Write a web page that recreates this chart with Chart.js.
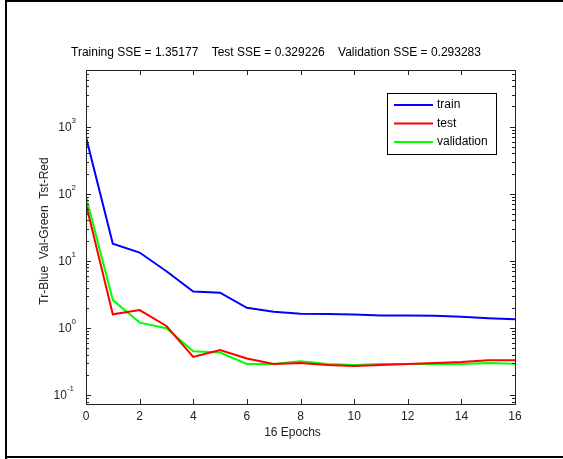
<!DOCTYPE html>
<html>
<head>
<meta charset="utf-8">
<script src="https://cdn.jsdelivr.net/npm/chart.js@4/dist/chart.umd.min.js"></script>
<style>
  body { margin: 0; background: #fff; }
  canvas { display: block; }
</style>
</head>
<body>
<canvas id="sseChart" width="563" height="459"></canvas>
<script>
const epochs = [0, 1, 2, 3, 4, 5, 6, 7, 8, 9, 10, 11, 12, 13, 14, 15, 16];
const trainSSE = [700, 18, 13.3, 7, 3.5, 3.35, 2.0, 1.75, 1.63, 1.62, 1.58, 1.53, 1.53, 1.52, 1.47, 1.40, 1.35177];
const testSSE = [70, 1.6, 1.85, 1.07, 0.37, 0.47, 0.35, 0.29, 0.30, 0.28, 0.27, 0.28, 0.29, 0.30, 0.31, 0.33, 0.329226];
const valSSE = [90, 2.6, 1.2, 0.99, 0.45, 0.43, 0.29, 0.29, 0.32, 0.29, 0.28, 0.29, 0.29, 0.29, 0.29, 0.30, 0.293283];
const xTicks = [0, 2, 4, 6, 8, 10, 12, 14, 16];
const yDecades = [-1, 0, 1, 2, 3];
const titleText = 'Training SSE = 1.35177    Test SSE = 0.329226    Validation SSE = 0.293283';

const FONT = '"Liberation Sans", Arial, sans-serif';

function toPoints(values) {
  return epochs.map((e, i) => ({ x: e, y: values[i] }));
}

// draws the matlab style box, ticks, labels and legend
const matlabAxes = {
  id: 'matlabAxes',
  afterDraw(chart) {
    const ctx = chart.ctx;
    const xs = chart.scales.x;
    const ys = chart.scales.y;
    const a = chart.chartArea;
    ctx.save();

    // outer figure frame
    ctx.strokeStyle = '#000';
    ctx.lineWidth = 2;
    ctx.beginPath();
    ctx.moveTo(6, 459);
    ctx.lineTo(6, 1);
    ctx.lineTo(563, 1);
    ctx.moveTo(6, 457);
    ctx.lineTo(563, 457);
    ctx.stroke();

    // axes box
    ctx.lineWidth = 1;
    ctx.strokeStyle = '#222';
    ctx.strokeRect(a.left + 0.5, a.top + 0.5, a.right - a.left, a.bottom - a.top);

    ctx.beginPath();
    // x ticks, inward on top and bottom
    xTicks.forEach(t => {
      const px = Math.round(xs.getPixelForValue(t)) + 0.5;
      ctx.moveTo(px, a.bottom);
      ctx.lineTo(px, a.bottom - 5);
      ctx.moveTo(px, a.top);
      ctx.lineTo(px, a.top + 5);
    });
    // y major and minor ticks
    for (let d = -2; d <= 4; d++) {
      for (let m = 1; m <= 9; m++) {
        const v = m * Math.pow(10, d);
        if (v < ys.min || v > ys.max) continue;
        const py = Math.round(ys.getPixelForValue(v)) + 0.5;
        const len = m === 1 ? 5 : 3;
        ctx.moveTo(a.left, py);
        ctx.lineTo(a.left + len, py);
        ctx.moveTo(a.right, py);
        ctx.lineTo(a.right - len, py);
      }
    }
    ctx.stroke();

    ctx.fillStyle = '#222';
    // x tick labels
    ctx.font = '12px ' + FONT;
    ctx.textAlign = 'center';
    ctx.textBaseline = 'middle';
    xTicks.forEach(t => {
      ctx.fillText(String(t), xs.getPixelForValue(t), a.bottom + 13);
    });
    ctx.fillText('16 Epochs', (a.left + a.right) / 2 - 8, a.bottom + 29);

    // y tick labels 10^n
    yDecades.forEach(d => {
      const py = ys.getPixelForValue(Math.pow(10, d));
      const exp = String(d);
      ctx.font = '8px ' + FONT;
      const ew = ctx.measureText(exp).width;
      ctx.textAlign = 'left';
      ctx.fillText(exp, a.left - 13 - ew + (d < 0 ? 1 : 3), py - 6);
      ctx.font = '12px ' + FONT;
      ctx.textAlign = 'right';
      ctx.fillText('10', a.left - 12 - ew + (d < 0 ? 0 : 2), py + 1);
    });

    // y axis label
    ctx.save();
    ctx.translate(45, 231);
    ctx.rotate(-Math.PI / 2);
    ctx.textAlign = 'center';
    ctx.font = '12px ' + FONT;
    ctx.fillText('Tr-Blue  Val-Green  Tst-Red', 0, 0);
    ctx.restore();

    // title
    ctx.font = '12px ' + FONT;
    ctx.textAlign = 'left';
    ctx.fillStyle = '#000';
    ctx.fillText(titleText, 71, 53);

    // legend box
    const lx = 387, ly = 93, lw = 109, lh = 61;
    ctx.fillStyle = '#fff';
    ctx.fillRect(lx, ly, lw, lh);
    ctx.strokeStyle = '#000';
    ctx.strokeRect(lx + 0.5, ly + 0.5, lw, lh);
    chart.data.datasets.forEach((ds, i) => {
      const ry = ly + 12 + i * 18.5;
      ctx.strokeStyle = ds.borderColor;
      ctx.lineWidth = 2;
      ctx.beginPath();
      ctx.moveTo(394, ry);
      ctx.lineTo(433, ry);
      ctx.stroke();
      ctx.fillStyle = '#000';
      ctx.textAlign = 'left';
      ctx.font = '12px ' + FONT;
      ctx.fillText(ds.label, 437, ry);
    });
    ctx.restore();
  }
};

const chart = new Chart(document.getElementById('sseChart').getContext('2d'), {
  type: 'line',
  data: {
    datasets: [
      { label: 'train', data: toPoints(trainSSE), borderColor: '#0000ff' },
      { label: 'test', data: toPoints(testSSE), borderColor: '#ff0000' },
      { label: 'validation', data: toPoints(valSSE), borderColor: '#00ff00' }
    ]
  },
  options: {
    responsive: false,
    animation: false,
    layout: { padding: { left: 86, right: 48, top: 70, bottom: 55 } },
    elements: {
      line: { borderWidth: 2, tension: 0 },
      point: { radius: 0 }
    },
    plugins: { legend: { display: false }, tooltip: { enabled: false } },
    scales: {
      x: { type: 'linear', min: 0, max: 16, display: false },
      y: { type: 'logarithmic', min: 0.0735, max: 7000, display: false }
    }
  },
  plugins: [matlabAxes]
});
</script>
</body>
</html>
